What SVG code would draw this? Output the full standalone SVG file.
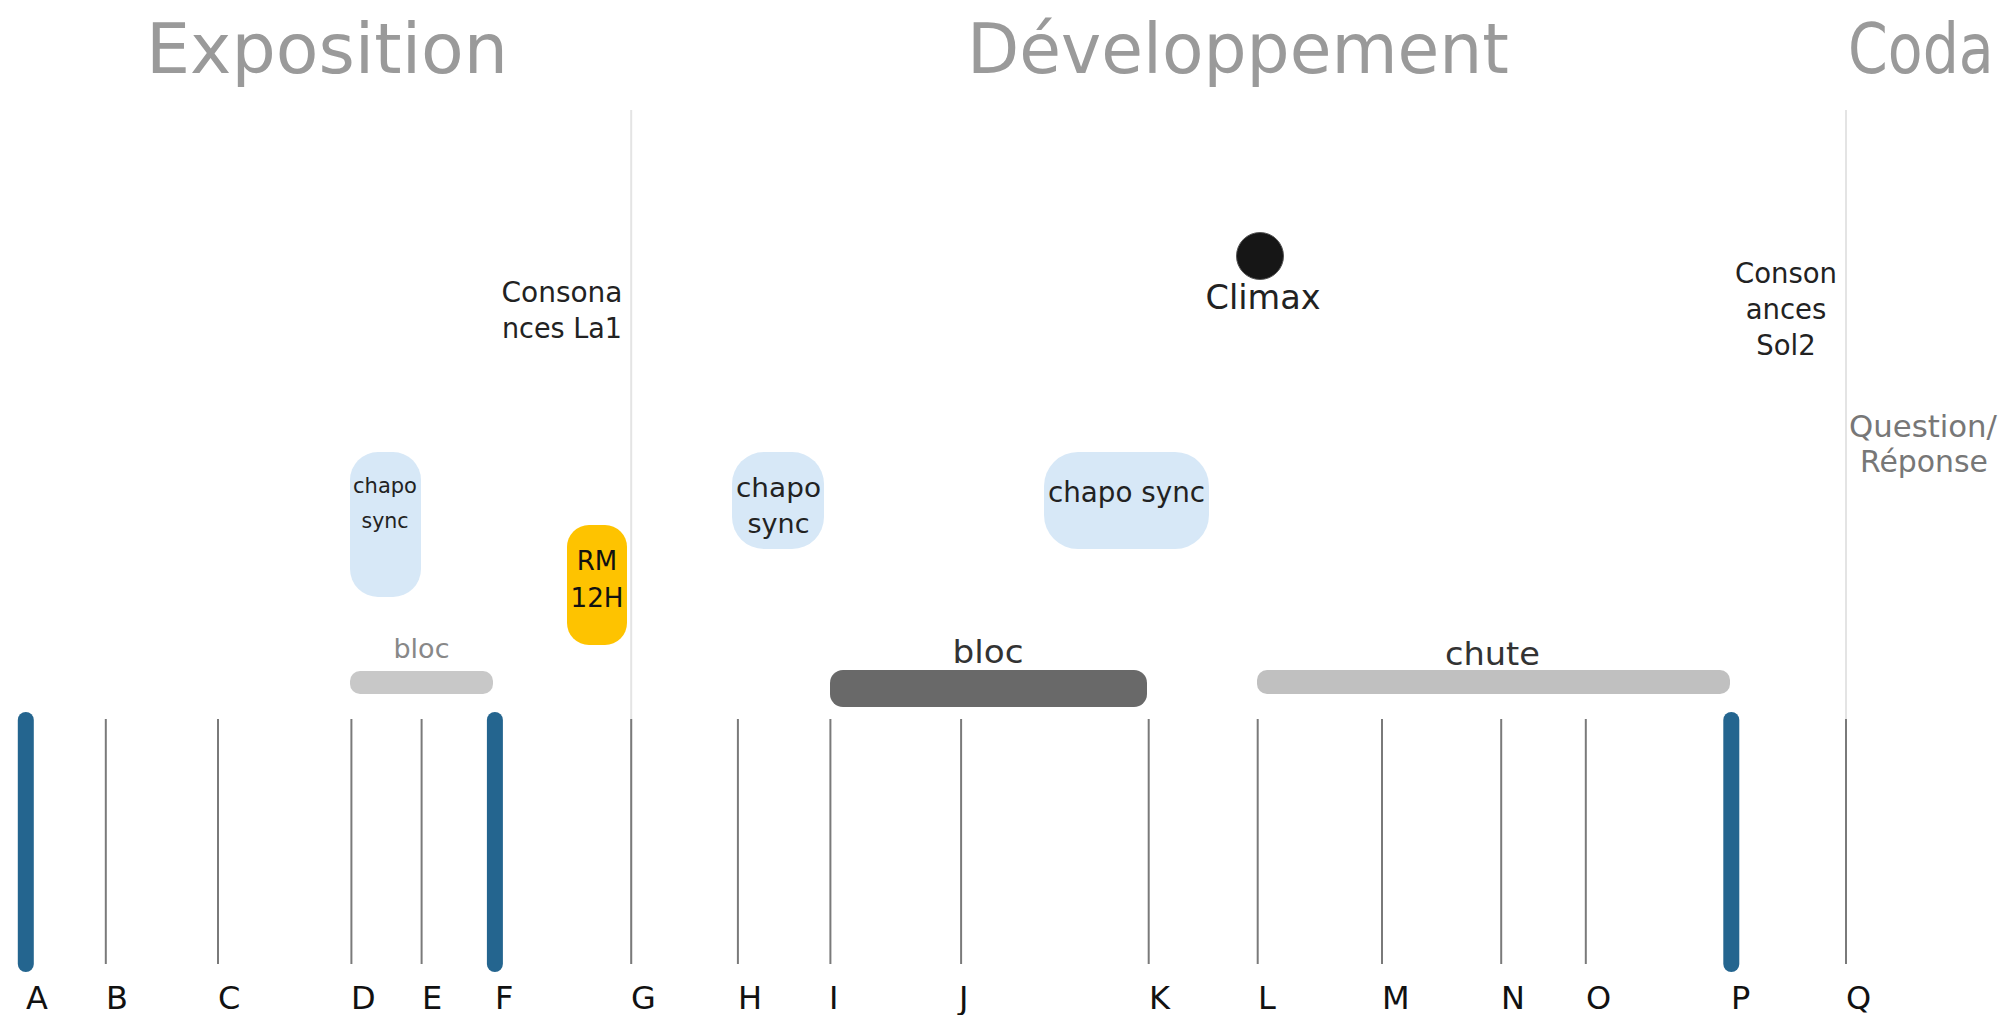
<svg xmlns="http://www.w3.org/2000/svg" width="2005" height="1015" viewBox="0 0 2005 1015">
<style>
text{font-family:"DejaVu Sans","Liberation Sans",sans-serif;}
.title{font-size:70px;fill:#9a9a9a;}
.lbl{font-size:27.5px;fill:#222;text-anchor:middle;}
.tick{stroke:#7a7a7a;stroke-width:2;}
.thick{stroke:#24658f;stroke-width:16;stroke-linecap:round;}
.sep{stroke:#e4e4e4;stroke-width:2;}
.sync{fill:#d7e8f7;}
.letter{font-size:32px;fill:#111;}
</style>
<rect width="2005" height="1015" fill="#ffffff"/>

<g id="titles">
<text class="title" x="146" y="73" textLength="362" lengthAdjust="spacingAndGlyphs">Exposition</text>
<text class="title" x="967" y="73" textLength="542" lengthAdjust="spacingAndGlyphs">Développement</text>
<text class="title" x="0" y="0" transform="translate(1848,73) scale(1,1.228)" style="font-size:57px">Coda</text>
</g>

<g id="connectors">
<line class="sep" x1="631.2" y1="110" x2="631.2" y2="964"/>
<line class="sep" x1="1846" y1="110" x2="1846" y2="964"/>
<line class="thick" x1="25.8" y1="720" x2="25.8" y2="964"/>
<line class="tick" x1="105.8" y1="719" x2="105.8" y2="964"/>
<line class="tick" x1="218" y1="719" x2="218" y2="964"/>
<line class="tick" x1="351.4" y1="719" x2="351.4" y2="964"/>
<line class="tick" x1="421.6" y1="719" x2="421.6" y2="964"/>
<line class="thick" x1="494.9" y1="720" x2="494.9" y2="964"/>
<line class="tick" x1="631.2" y1="719" x2="631.2" y2="964"/>
<line class="tick" x1="737.9" y1="719" x2="737.9" y2="964"/>
<line class="tick" x1="830.4" y1="719" x2="830.4" y2="964"/>
<line class="tick" x1="961.1" y1="719" x2="961.1" y2="964"/>
<line class="tick" x1="1148.7" y1="719" x2="1148.7" y2="964"/>
<line class="tick" x1="1257.7" y1="719" x2="1257.7" y2="964"/>
<line class="tick" x1="1382" y1="719" x2="1382" y2="964"/>
<line class="tick" x1="1501.2" y1="719" x2="1501.2" y2="964"/>
<line class="tick" x1="1585.8" y1="719" x2="1585.8" y2="964"/>
<line class="thick" x1="1731.3" y1="720" x2="1731.3" y2="964"/>
<line class="tick" x1="1846" y1="719" x2="1846" y2="964"/>
</g>

<g id="tick-labels">
<text class="letter" x="26" y="1009">A</text>
<text class="letter" x="106" y="1009">B</text>
<text class="letter" x="218" y="1009">C</text>
<text class="letter" x="351" y="1009">D</text>
<text class="letter" x="422" y="1009">E</text>
<text class="letter" x="495" y="1009">F</text>
<text class="letter" x="631" y="1009">G</text>
<text class="letter" x="738" y="1009">H</text>
<text class="letter" x="829" y="1009">I</text>
<text class="letter" x="959" y="1009">J</text>
<text class="letter" x="1149" y="1009">K</text>
<text class="letter" x="1258" y="1009">L</text>
<text class="letter" x="1382" y="1009">M</text>
<text class="letter" x="1501" y="1009">N</text>
<text class="letter" x="1586" y="1009">O</text>
<text class="letter" x="1731" y="1009">P</text>
<text class="letter" x="1846" y="1009">Q</text>
</g>

<g id="consonances-la1">
<text class="lbl" x="562" y="302" textLength="121" lengthAdjust="spacingAndGlyphs">Consona</text>
<text class="lbl" x="562" y="338" textLength="120" lengthAdjust="spacingAndGlyphs">nces La1</text>
</g>

<g id="climax">
<circle cx="1260" cy="256" r="23.5" fill="#161616" stroke="#555" stroke-width="1"/>
<text class="lbl" x="1263" y="309" style="font-size:33px" textLength="115" lengthAdjust="spacingAndGlyphs">Climax</text>
</g>

<g id="consonances-sol2">
<text class="lbl" x="1786" y="283">Conson</text>
<text class="lbl" x="1786" y="319">ances</text>
<text class="lbl" x="1786" y="355">Sol2</text>
</g>

<g id="question-reponse">
<text class="lbl" x="1923" y="437" style="font-size:30px;fill:#777" textLength="148" lengthAdjust="spacingAndGlyphs">Question/</text>
<text class="lbl" x="1924" y="472" style="font-size:30px;fill:#777" textLength="128" lengthAdjust="spacingAndGlyphs">Réponse</text>
</g>

<g id="chapo-sync-1">
<rect class="sync" x="350" y="452" width="71" height="145" rx="28" ry="28"/>
<text class="lbl" x="385" y="493" style="font-size:20.5px" textLength="64" lengthAdjust="spacingAndGlyphs">chapo</text>
<text class="lbl" x="385" y="528" style="font-size:20.5px">sync</text>
</g>

<g id="rm-12h">
<rect x="567" y="525" width="60" height="120" rx="22" ry="22" fill="#fec300"/>
<text class="lbl" x="597" y="570" style="font-size:26px;fill:#111">RM</text>
<text class="lbl" x="597" y="607" style="font-size:26px;fill:#111" textLength="53" lengthAdjust="spacingAndGlyphs">12H</text>
</g>

<g id="chapo-sync-2">
<rect class="sync" x="732" y="452" width="92" height="97" rx="32" ry="32"/>
<text class="lbl" x="778.5" y="497" style="font-size:27px" textLength="85" lengthAdjust="spacingAndGlyphs">chapo</text>
<text class="lbl" x="778.5" y="533" style="font-size:27px">sync</text>
</g>

<g id="chapo-sync-3">
<rect class="sync" x="1044" y="452" width="165" height="97" rx="34" ry="34"/>
<text class="lbl" x="1126.5" y="502" textLength="157" lengthAdjust="spacingAndGlyphs">chapo sync</text>
</g>

<g id="bloc-1">
<rect x="350" y="671" width="143" height="23" rx="10" ry="10" fill="#c8c8c8"/>
<text class="lbl" x="421.5" y="658" style="font-size:27px;fill:#888">bloc</text>
</g>

<g id="bloc-2">
<rect x="830" y="670" width="317" height="37" rx="13" ry="13" fill="#696969"/>
<text class="lbl" x="988" y="663" style="font-size:32px;fill:#333" textLength="71" lengthAdjust="spacingAndGlyphs">bloc</text>
</g>

<g id="chute">
<rect x="1257" y="670" width="473" height="24" rx="10" ry="10" fill="#c0c0c0"/>
<text class="lbl" x="1492.5" y="665" style="font-size:32px;fill:#333" textLength="95" lengthAdjust="spacingAndGlyphs">chute</text>
</g>
</svg>
